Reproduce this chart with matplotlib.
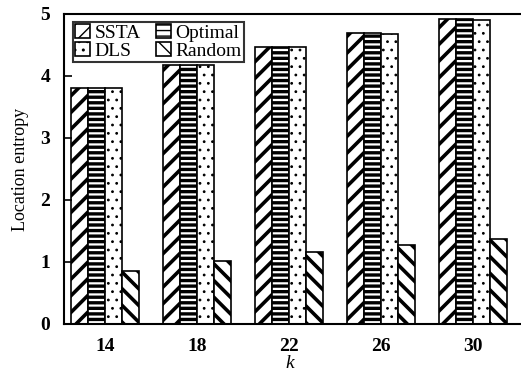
import matplotlib
matplotlib.use("Agg")
import matplotlib.pyplot as plt
import numpy as np

categories = ["14", "18", "22", "26", "30"]
series_names = ["SSTA", "Optimal", "DLS", "Random"]
ssta = [3.81, 4.18, 4.47, 4.69, 4.92]
optimal = [3.81, 4.18, 4.47, 4.69, 4.92]
dls = [3.81, 4.17, 4.46, 4.68, 4.90]
random_ = [0.85, 1.02, 1.16, 1.27, 1.37]
hatches = ["//", "---", "..", "\\\\"]
hatch_lw = [2.6, 2.4, 0.8, 2.6]

plt.rcParams["font.family"] = ["Liberation Serif", "DejaVu Serif"]

fig = plt.figure(figsize=(5.21, 3.73), dpi=100)
right_px = 526
ax = fig.add_axes([64/521, 1-324/373, (right_px-64)/521, (324-14)/373])

x = np.arange(len(categories))
w = 17/92
values = [ssta, optimal, dls, random_]
handles = []
for i, (name, vals, h, hl) in enumerate(zip(series_names, values, hatches, hatch_lw)):
    with plt.rc_context({"hatch.linewidth": hl}):
        b = ax.bar(x + (i-1.5)*w, vals, w, facecolor="white", edgecolor="black",
                   hatch=h, linewidth=1.2, label=name)
    handles.append(b)

ax.set_xlim(-(105-64)/92, 4 + (right_px-473)/92)
ax.set_ylim(0, 5)
ax.set_xticks(x)
ax.set_xticklabels(categories, fontweight="bold", fontsize=14)
ax.set_yticks(range(6))
ax.set_yticklabels([str(v) for v in range(6)], fontweight="bold", fontsize=14)
ax.tick_params(axis="y", direction="in", length=6, width=1.2, pad=10)
ax.tick_params(axis="x", length=0, pad=10)
for s in ["left", "top", "bottom"]:
    ax.spines[s].set_linewidth(1.5)
ax.spines["right"].set_visible(False)
ax.set_ylabel("Location entropy", fontsize=13, labelpad=8)
ax.set_xlabel("k", fontstyle="italic", fontsize=14)
ax.xaxis.set_label_coords((290-64)/462, -(355-324)/310)

order = [0, 2, 1, 3]
leg = ax.legend([handles[i] for i in order], [series_names[i] for i in order],
                ncol=2, loc="upper left", bbox_to_anchor=(9/462, 1-8/310),
                fontsize=14, frameon=True, fancybox=False, edgecolor="black",
                handlelength=0.75, handleheight=0.75, handletextpad=0.25,
                columnspacing=0.8, borderpad=0.1, labelspacing=0.0,
                borderaxespad=0)
leg.get_frame().set_linewidth(1.5)

fig.savefig("out.png", dpi=100)
